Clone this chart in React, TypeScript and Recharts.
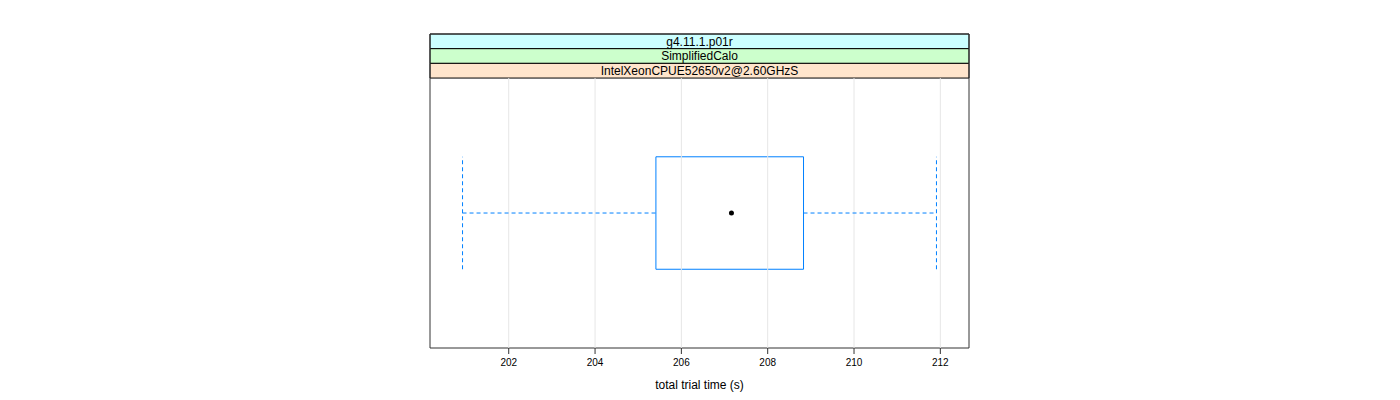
import {
  ComposedChart,
  XAxis,
  YAxis,
  Scatter,
  ReferenceArea,
  ReferenceLine,
} from 'recharts';

// axis
const xTicks = [202, 204, 206, 208, 210, 212];
const xDomain = [200.176, 212.664];

// five number summary of total trial time (s)
const whiskerLow = [200.93];
const boxLow = [205.41];
const median = [207.16];
const boxHigh = [208.83];
const whiskerHigh = [211.91];

// strip labels, top to bottom
const stripLabels = ['g4.11.1.p01r', 'SimplifiedCalo', 'IntelXeonCPUE52650v2@2.60GHzS'];
const stripColors = ['#ccffff', '#ccffcc', '#ffe5cc'];

const BOX_COLOR = '#0080ff';
const PANEL_TOP = 1.6;
const STRIP_H = 0.06527;
const Y_TOP = PANEL_TOP + STRIP_H * 3;

const App = () => {
  const medianData = median.map((m) => ({ x: m, y: 1 }));

  return (
    <div
      style={{
        position: 'absolute',
        left: 0,
        top: 0,
        width: 1400,
        height: 400,
        background: '#fff',
        fontFamily: '"Liberation Sans", Arial, sans-serif',
      }}
    >
      <ComposedChart
        width={1400}
        height={400}
        margin={{ top: 28, right: 431, left: 430, bottom: 6 }}
      >
        <XAxis
          type="number"
          dataKey="x"
          domain={xDomain}
          ticks={xTicks}
          allowDataOverflow
          axisLine={false}
          tickSize={6}
          tickMargin={5}
          tickLine={{ stroke: '#333' }}
          tick={{ fill: '#000', fontSize: 10 }}
          height={46}
          label={{
            value: 'total trial time (s)',
            position: 'insideBottom',
            offset: 5,
            fill: '#000',
            fontSize: 12,
          }}
        />
        <XAxis
          xAxisId="top"
          orientation="top"
          type="number"
          domain={xDomain}
          ticks={xTicks}
          allowDataOverflow
          axisLine={false}
          tickSize={6}
          tickLine={{ stroke: '#333' }}
          tick={false}
          height={6}
        />
        <YAxis type="number" dataKey="y" domain={[0.4, Y_TOP]} hide allowDataOverflow />

        {/* grid lines under panel */}
        {xTicks.map((t) => (
          <ReferenceLine
            key={t}
            segment={[
              { x: t, y: 0.4 },
              { x: t, y: PANEL_TOP },
            ]}
            stroke="#e6e6e6"
          />
        ))}

        {/* whiskers */}
        <ReferenceLine
          segment={[
            { x: whiskerLow[0], y: 1 },
            { x: boxLow[0], y: 1 },
          ]}
          stroke={BOX_COLOR}
          strokeDasharray="4 3"
        />
        <ReferenceLine
          segment={[
            { x: boxHigh[0], y: 1 },
            { x: whiskerHigh[0], y: 1 },
          ]}
          stroke={BOX_COLOR}
          strokeDasharray="4 3"
        />
        <ReferenceLine
          segment={[
            { x: whiskerLow[0], y: 0.75 },
            { x: whiskerLow[0], y: 1.25 },
          ]}
          stroke={BOX_COLOR}
          strokeDasharray="4 3"
        />
        <ReferenceLine
          segment={[
            { x: whiskerHigh[0], y: 0.75 },
            { x: whiskerHigh[0], y: 1.25 },
          ]}
          stroke={BOX_COLOR}
          strokeDasharray="4 3"
        />

        {/* box */}
        <ReferenceArea
          x1={boxLow[0]}
          x2={boxHigh[0]}
          y1={0.75}
          y2={1.25}
          fill="#fff"
          fillOpacity={1}
          stroke={BOX_COLOR}
          strokeWidth={1}
        />

        {/* strips */}
        {stripLabels.map((s, i) => (
          <ReferenceArea
            key={s}
            x1={xDomain[0]}
            x2={xDomain[1]}
            y1={Y_TOP - STRIP_H * (i + 1)}
            y2={Y_TOP - STRIP_H * i}
            fill={stripColors[i]}
            fillOpacity={1}
            stroke="#000"
            strokeWidth={1}
            label={{ value: s, position: 'center', fill: '#000', fontSize: 12 }}
          />
        ))}

        {/* panel border */}
        <ReferenceArea
          x1={xDomain[0]}
          x2={xDomain[1]}
          y1={0.4}
          y2={Y_TOP}
          fill="none"
          stroke="#333"
          strokeWidth={1}
        />

        <Scatter
          data={medianData}
          dataKey="y"
          isAnimationActive={false}
          shape={(p: any) => <circle cx={p.cx} cy={p.cy} r={2.5} fill="#000" />}
        />
      </ComposedChart>
    </div>
  );
};

export default App;
